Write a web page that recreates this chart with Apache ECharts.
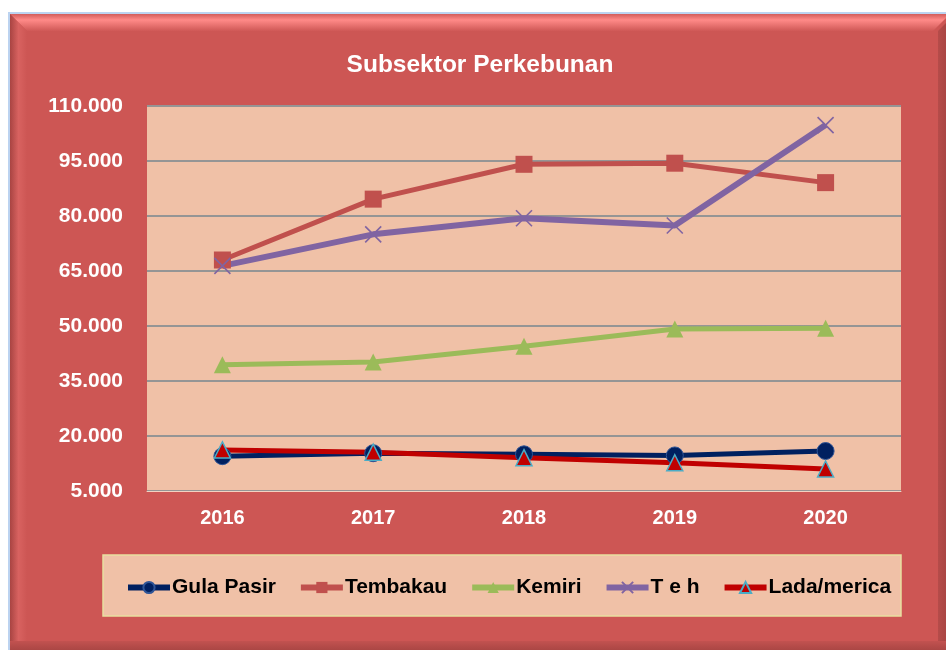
<!DOCTYPE html>
<html>
<head>
<meta charset="utf-8">
<script src="https://cdn.jsdelivr.net/npm/echarts@6/dist/echarts.min.js"></script>
<style>
html,body{margin:0;padding:0;background:#ffffff;}
#chart{width:946px;height:650px;}
</style>
</head>
<body>
<div id="chart"></div>
<script>
var categories = ['2016', '2017', '2018', '2019', '2020'];
var gulaPasir = [14500, 15300, 15000, 14700, 15900];
var tembakau = [68000, 84600, 94100, 94400, 89100];
var kemiri = [39400, 40200, 44500, 49200, 49400];
var teh = [66400, 75000, 79400, 77400, 104800];
var lada = [16200, 15600, 14100, 12700, 11000];
var seriesNames = ['Gula Pasir', 'Tembakau', 'Kemiri', 'T e h', 'Lada/merica'];
var yMin = 5000, yMax = 110000, yStep = 15000;

var FONT = '"Liberation Sans", Arial, sans-serif';
var FRAME = '#CD5654';
var PEACH = '#F0C1A7';

function fmt(v) {
  return String(v).replace(/\B(?=(\d{3})+(?!\d))/g, '.');
}

var chart = echarts.init(document.getElementById('chart'), null, {renderer: 'canvas'});

var option = {
  backgroundColor: '#ffffff',
  animation: false,
  title: {
    text: 'Subsektor Perkebunan',
    left: 475,
    textAlign: 'center',
    top: 48,
    textStyle: {color: '#ffffff', fontFamily: FONT, fontWeight: 'bold', fontSize: 24.5}
  },
  graphic: [
    {type: 'rect', z: -10, shape: {x: 8, y: 12, width: 940, height: 640},
     style: {fill: '#BCD3F0'}},
    {type: 'rect', z: -9, shape: {x: 10, y: 14, width: 940, height: 640},
     style: {fill: FRAME}},
    {type: 'polygon', z: -8, shape: {points: [[10, 14], [950, 14], [933, 31], [27, 31]]},
     style: {fill: new echarts.graphic.LinearGradient(0, 0, 0, 1, [
       {offset: 0, color: '#D25D5B'}, {offset: 0.35, color: '#FF8A88'}, {offset: 1, color: '#CF5856'}])}},
    {type: 'polygon', z: -8, shape: {points: [[10, 14], [27, 31], [27, 650], [10, 650]]},
     style: {fill: new echarts.graphic.LinearGradient(0, 0, 1, 0, [
       {offset: 0, color: '#A94442'}, {offset: 0.5, color: '#D86260'}, {offset: 1, color: '#CD5654'}])}},
    {type: 'polygon', z: -8, shape: {points: [[938, 31], [955, 14], [955, 650], [938, 650]]},
     style: {fill: new echarts.graphic.LinearGradient(0, 0, 1, 0, [
       {offset: 0, color: '#B54C4A'}, {offset: 1, color: '#9E3E3C'}])}},
    {type: 'rect', z: -8, shape: {x: 10, y: 641, width: 940, height: 10},
     style: {fill: new echarts.graphic.LinearGradient(0, 0, 0, 1, [
       {offset: 0, color: '#C25250'}, {offset: 1, color: '#A84543'}])}},
    {type: 'rect', z: -5, shape: {x: 147, y: 106, width: 754, height: 385},
     style: {fill: PEACH}},
    {type: 'rect', z: -5, shape: {x: 103, y: 555, width: 798, height: 61},
     style: {fill: PEACH, stroke: '#E8E0A0', lineWidth: 1.5}}
  ],
  grid: {left: 147, top: 106, right: 45, bottom: 159, containLabel: false},
  legend: {
    left: 120,
    top: 572,
    itemWidth: 42,
    itemHeight: 14,
    itemGap: 22,
    lineStyle: {width: 6},
    textStyle: {color: '#000000', fontFamily: FONT, fontWeight: 'bold', fontSize: 21, padding: [0, 0, 0, -3]},
    data: seriesNames
  },
  xAxis: {
    type: 'category',
    data: categories,
    boundaryGap: true,
    axisLine: {show: true, lineStyle: {color: '#F3D2C2', width: 1}},
    axisTick: {show: false},
    axisLabel: {color: '#ffffff', fontFamily: FONT, fontWeight: 'bold', fontSize: 20, margin: 17}
  },
  yAxis: {
    type: 'value',
    min: yMin,
    max: yMax,
    interval: yStep,
    axisLine: {show: false},
    axisTick: {show: false},
    splitLine: {show: true, lineStyle: {color: '#959595', width: 2}},
    axisLabel: {color: '#ffffff', fontFamily: FONT, fontWeight: 'bold', fontSize: 21, margin: 24,
                formatter: function (v) { return fmt(v); }}
  },
  series: [
    {
      name: seriesNames[0], type: 'line', data: gulaPasir,
      symbol: 'circle', symbolSize: 17,
      lineStyle: {color: '#002060', width: 5},
      itemStyle: {color: '#002060', borderColor: '#2F5597', borderWidth: 1}
    },
    {
      name: seriesNames[1], type: 'line', data: tembakau,
      symbol: 'rect', symbolSize: 17,
      lineStyle: {color: '#C0504D', width: 5},
      itemStyle: {color: '#C0504D', borderColor: '#C0504D', borderWidth: 0}
    },
    {
      name: seriesNames[2], type: 'line', data: kemiri,
      symbol: 'triangle', symbolSize: 17,
      lineStyle: {color: '#9BBB59', width: 5},
      itemStyle: {color: '#9BBB59', borderColor: '#9BBB59', borderWidth: 0}
    },
    {
      name: seriesNames[3], type: 'line', data: teh,
      symbol: 'path://M0,0L10,10M10,0L0,10', symbolSize: 16,
      lineStyle: {color: '#8064A2', width: 6},
      itemStyle: {color: 'rgba(0,0,0,0)', borderColor: '#8064A2', borderWidth: 1.6}
    },
    {
      name: seriesNames[4], type: 'line', data: lada,
      symbol: 'triangle', symbolSize: 16,
      lineStyle: {color: '#C00000', width: 5},
      itemStyle: {color: '#C00000', borderColor: '#4BACC6', borderWidth: 1.5}
    }
  ]
};
chart.setOption(option);
</script>
</body>
</html>
